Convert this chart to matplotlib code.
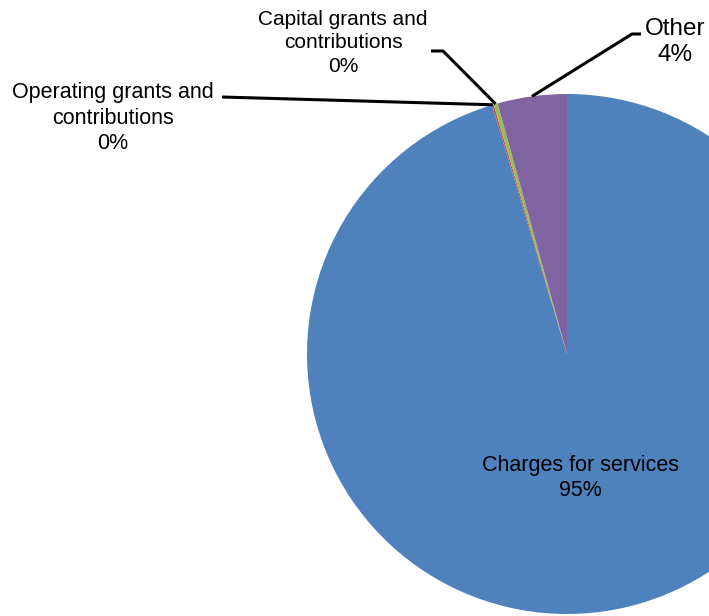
import matplotlib.pyplot as plt
import numpy as np

plt.rcParams['font.family'] = ['Liberation Sans', 'DejaVu Sans']

# data (share of revenue, %)
labels = ['Charges for services', 'Operating grants and\ncontributions',
          'Capital grants and\ncontributions', 'Other']
values = [95.35, 0.1, 0.25, 4.3]
pct_text = ['95%', '0%', '0%', '4%']
colors = ['#4F81BD', '#C0504D', '#9BBB59', '#8064A2']

W, H = 709, 616
fig = plt.figure(figsize=(W / 100, H / 100), dpi=100)
ax = fig.add_axes([0, 0, 1, 1])

# pie in pixel-like coordinates (y up)
cx, cy, r = 567, H - 354, 260
wedges, _ = ax.pie(values, colors=colors, startangle=90, counterclock=False,
                   center=(cx, cy), radius=r, frame=True,
                   wedgeprops=dict(linewidth=0))
ax.set_xlim(0, W)
ax.set_ylim(0, H)
ax.set_aspect('equal', adjustable='box')
ax.axis('off')


def edge_point(i):
    cum = np.cumsum(values) / sum(values)
    start = cum[i] - values[i] / sum(values)
    f = (start + cum[i]) / 2
    a = np.deg2rad(90 - 360 * f)
    return cx + r * np.cos(a), cy + r * np.sin(a)


def py(y):
    return H - y


# inside label
ax.text(580, py(478), labels[0] + '\n' + pct_text[0], ha='center', va='center',
        fontsize=15.5, linespacing=1.3)

# leader lines + outside labels
lw = 2.2
x0, y0 = edge_point(3)
ax.plot([x0, 632, 641], [y0, py(34), py(34)], color='black', lw=lw,
        solid_capstyle='butt')
ax.text(675, py(42), labels[3] + '\n' + pct_text[3], ha='center', va='center',
        fontsize=17.5, linespacing=1.2)

x0, y0 = edge_point(2)
ax.plot([x0, 443, 431], [y0, py(51), py(51)], color='black', lw=lw,
        solid_capstyle='butt')
ax.text(343, py(43), labels[2] + '\n' + pct_text[2], ha='center', va='center',
        fontsize=15, linespacing=1.3)

x0, y0 = edge_point(1)
ax.plot([x0, 222], [y0, py(97)], color='black', lw=lw, solid_capstyle='butt')
ax.text(113, py(118), labels[1] + '\n' + pct_text[1], ha='center', va='center',
        fontsize=15.5, linespacing=1.3)

fig.savefig('out.png', dpi=100)
